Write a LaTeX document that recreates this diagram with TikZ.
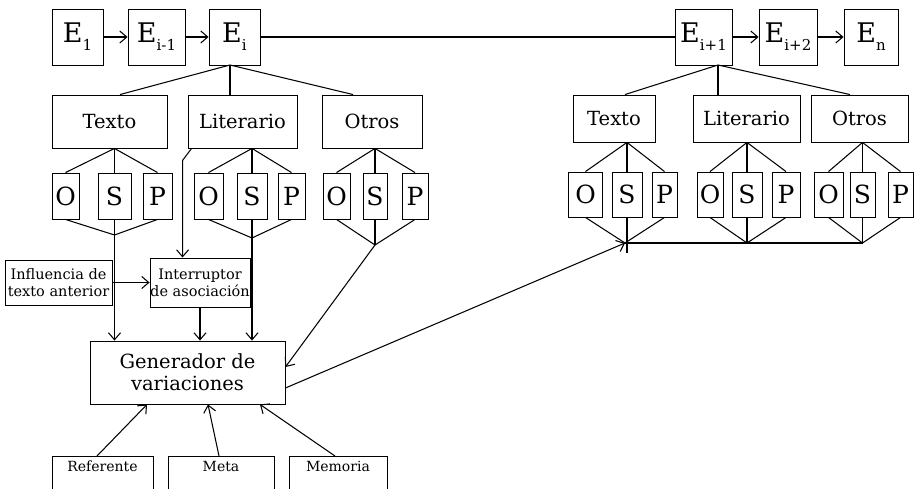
\documentclass[tikz,border=0pt]{standalone}
\usepackage{fontspec}
\setmainfont{DejaVu Serif}
\usetikzlibrary{arrows.meta}
\newcommand\esub[1]{\raisebox{-8pt}{\fontsize{15}{15}\selectfont #1}}
\begin{document}
\begin{tikzpicture}[x=1pt,y=-1pt, line width=1.05pt,
  box/.style={draw, inner sep=0pt, line width=0.9pt},
  ebox/.style={box, minimum height=56pt, font=\fontsize{27}{28}\selectfont},
  catl/.style={box, minimum height=53pt, font=\fontsize{19.5}{22}\selectfont},
  catr/.style={box, minimum height=47pt, font=\fontsize{19.5}{22}\selectfont},
  lbox/.style={box, minimum height=46pt, font=\fontsize{25}{26}\selectfont},
  rbox/.style={box, minimum height=45pt, font=\fontsize{25}{26}\selectfont},
  small/.style={box, align=center, font=\fontsize{14.5}{17}\selectfont},
  gbox/.style={box, align=center, font=\fontsize{19.5}{22}\selectfont},
  bot/.style={draw, line width=0.9pt, anchor=north, inner xsep=0pt, inner ysep=4pt, text height=11pt, text depth=50pt, font=\fontsize{14}{17}\selectfont},
  arr/.style={-{Straight Barb[length=7pt,width=12pt]}},
]
\useasboundingbox (0,0) rectangle (914,489);
\clip (0,0) rectangle (914,489);

% top chain
\node[ebox, minimum width=51pt] (e1)   at (77.5,37)  {E\esub{1}};
\node[ebox, minimum width=57pt] (eim)  at (156.5,37) {E\esub{i-1}};
\node[ebox, minimum width=51pt] (ei)   at (234.5,37) {E\esub{i}};
\node[ebox, minimum width=57pt] (eip)  at (703.5,37) {E\esub{i+1}};
\node[ebox, minimum width=58pt] (eipp) at (788,37)   {E\esub{i+2}};
\node[ebox, minimum width=54pt] (en)   at (871,37)   {E\esub{n}};
\draw[arr] (e1) -- (eim);
\draw[arr] (eim) -- (ei);
\draw (ei) -- (eip);
\draw[arr] (eip) -- (eipp);
\draw[arr] (eipp) -- (en);

% left categories
\node[catl, minimum width=115pt] (tl) at (109.5,121.5) {Texto};
\node[catl, minimum width=109pt] (ll) at (242.5,121.5) {Literario};
\node[catl, minimum width=100pt] (ol) at (372,121.5)   {Otros};
\coordinate (eib) at (230,65);
\draw (eib) -- ([xshift=10.5pt]tl.north);
\draw (eib) -- ([xshift=-12.5pt]ll.north);
\draw (eib) -- ([xshift=-19pt]ol.north);

% left O S P
\node[lbox, minimum width=27pt] (tlO) at (65.5,196)  {O};
\node[lbox, minimum width=33pt] (tlS) at (114.5,196) {S};
\node[lbox, minimum width=29pt] (tlP) at (157.5,196) {P};
\node[lbox, minimum width=29pt] (llO) at (208.5,196) {O};
\node[lbox, minimum width=30pt] (llS) at (252,196)   {S};
\node[lbox, minimum width=27pt] (llP) at (291.5,196) {P};
\node[lbox, minimum width=27pt] (olO) at (336.5,196) {O};
\node[lbox, minimum width=24pt] (olS) at (375,196)   {S};
\node[lbox, minimum width=26pt] (olP) at (415,196)   {P};
\coordinate (tlA) at (114.5,235);
\coordinate (llA) at (252,238);
\coordinate (olA) at (375,245);

\foreach \c in {tl,ll,ol}{
  \draw (\c.south -| \c S.north) -- (\c O.north);
  \draw (\c.south -| \c S.north) -- (\c S.north);
  \draw (\c.south -| \c S.north) -- (\c P.north);
  \draw (\c O.south) -- (\c A) -- (\c P.south);
  \draw (\c S.south) -- (\c A);
}

% right categories
\node[catr, minimum width=82pt]  (tr) at (614,118.5)   {Texto};
\node[catr, minimum width=107pt] (lr) at (746.5,118.5) {Literario};
\node[catr, minimum width=97pt]  (or) at (859.5,118.5) {Otros};
\coordinate (eipb) at (718,65);
\draw (eipb) -- ([xshift=11pt]tr.north);
\draw (eipb) -- ([xshift=-28.5pt]lr.north);
\draw (eipb) -- ([xshift=-9.5pt]or.north);

\node[rbox, minimum width=34pt] (trO) at (585.5,194.5) {O};
\node[rbox, minimum width=30pt] (trS) at (627,194.5)   {S};
\node[rbox, minimum width=25pt] (trP) at (664.5,194.5) {P};
\node[rbox, minimum width=26pt] (lrO) at (710,194.5)   {O};
\node[rbox, minimum width=30pt] (lrS) at (747,194.5)   {S};
\node[rbox, minimum width=28pt] (lrP) at (786,194.5)   {P};
\node[rbox, minimum width=29pt] (orO) at (828.5,194.5) {O};
\node[rbox, minimum width=25pt] (orS) at (862.5,194.5) {S};
\node[rbox, minimum width=25pt] (orP) at (900.5,194.5) {P};
\coordinate (trA) at (625,243);
\coordinate (lrA) at (747,243);
\coordinate (orA) at (862.5,243);

\foreach \c in {tr,lr,or}{
  \draw (\c.south -| \c S.north) -- (\c O.north);
  \draw (\c.south -| \c S.north) -- (\c S.north);
  \draw (\c.south -| \c S.north) -- (\c P.north);
  \draw (\c O.south) -- (\c A) -- (\c P.south);
}
\draw (trS.south) -- ([yshift=-10pt]trS.south |- trA);
\draw (lrS.south) -- (lrS.south |- lrA);
\draw (orS.south) -- (orS.south |- orA);
\draw (trA) -- (orA);

% lower part
\node[small, minimum width=107pt, minimum height=45pt] (inf) at (58.5,282.5) {Influencia de\\texto anterior};
\node[small, minimum width=100pt, minimum height=49pt] (int) at (200,282.5)  {Interruptor\\de asociación};
\node[gbox, minimum width=195pt, minimum height=63pt] (gen) at (187.5,372.5) {Generador de\\variaciones};
\node[bot, minimum width=101pt] (ref)  at (102.5,456) {Referente};
\node[bot, minimum width=106pt] (meta) at (221,456)   {Meta};
\node[bot, minimum width=98pt]  (mem)  at (338,456)   {Memoria};

\draw[arr] (tlA) -- (tlA |- gen.north);
\draw[arr] ([xshift=4pt]ll.south west) -- ([xshift=-5pt,yshift=-12pt]ll.south west) -- ([xshift=-5pt]ll.south west |- int.north);
\draw[arr] (llA) -- (llA |- gen.north);
\draw[arr] (int.south) -- (int.south |- gen.north);
\draw[arr] (inf) -- (int);
\draw[arr] (olA) -- ([yshift=5.5pt]gen.east);
\draw[arr] ([yshift=-15.5pt]gen.east) -- (trA);
\draw[arr] ([xshift=-5.5pt]ref.north) -- ([xshift=-40.5pt]gen.south);
\draw[arr] ([xshift=-2pt]meta.north) -- ([xshift=20.5pt]gen.south);
\draw[arr] ([xshift=-3pt]mem.north) -- ([xshift=72.5pt]gen.south);
\end{tikzpicture}
\end{document}
